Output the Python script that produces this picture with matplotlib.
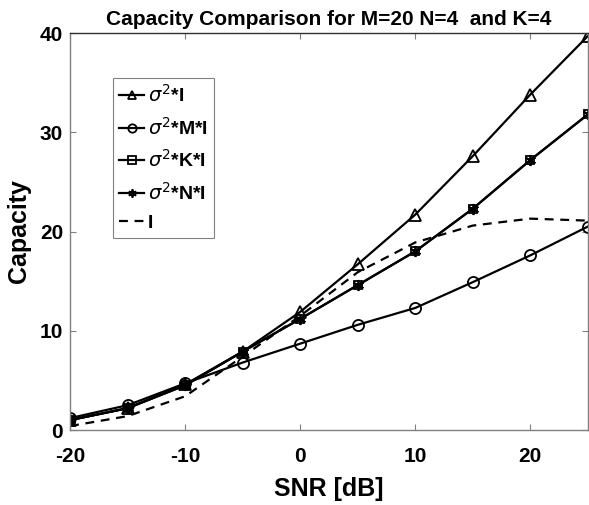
import numpy as np
import matplotlib
matplotlib.use("Agg")
import matplotlib.pyplot as plt

plt.rcParams['font.family'] = ['Liberation Sans', 'DejaVu Sans']
plt.rcParams['axes.unicode_minus'] = False

# datos
snr_db = [-20, -15, -10, -5, 0, 5, 10, 15, 20, 25]
cap_sigma_i = [1.0, 2.2, 4.6, 7.9, 11.9, 16.7, 21.7, 27.6, 33.8, 39.7]
cap_sigma_mi = [1.2, 2.5, 4.7, 6.8, 8.7, 10.6, 12.3, 14.9, 17.6, 20.5]
cap_sigma_ki = [1.0, 2.2, 4.5, 7.9, 11.2, 14.6, 18.0, 22.3, 27.2, 31.8]
cap_sigma_ni = [1.0, 2.2, 4.5, 7.9, 11.2, 14.6, 18.0, 22.3, 27.2, 31.8]
cap_identity = [0.4, 1.4, 3.4, 7.4, 11.5, 15.9, 18.9, 20.6, 21.3, 21.1]

fig = plt.figure(figsize=(5.89, 5.05), dpi=100)
ax = fig.add_axes([0.119, 0.1485, 0.879, 0.786])

lw = 1.6
ax.plot(snr_db, cap_sigma_i, color='k', lw=lw, marker='^', ms=8, mfc='none', mew=1.3,
        label=r'$\sigma^2$*I')
ax.plot(snr_db, cap_sigma_mi, color='k', lw=lw, marker='o', ms=8, mfc='none', mew=1.3,
        label=r'$\sigma^2$*M*I')
ax.plot(snr_db, cap_sigma_ki, color='k', lw=lw, marker='s', ms=6, mfc='none', mew=1.3,
        label=r'$\sigma^2$*K*I')
ax.plot(snr_db, cap_sigma_ni, color='k', lw=lw, marker=(6, 2, 0), ms=8, mew=1.3,
        label=r'$\sigma^2$*N*I')
ax.plot(snr_db, cap_identity, color='k', lw=lw, ls=(0, (4, 3)), label='I')

ax.set_xlim(-20, 25)
ax.set_ylim(0, 40)
ax.set_xticks([-20, -10, 0, 10, 20])
ax.set_yticks([0, 10, 20, 30, 40])
ax.tick_params(direction='in', length=4, width=0.8, color='#808080',
               labelsize=15, top=True, right=True)
ax.tick_params(axis='x', pad=12)
ax.tick_params(axis='y', pad=5)
for lab in ax.get_xticklabels() + ax.get_yticklabels():
    lab.set_fontweight('bold')
for s in ax.spines.values():
    s.set_color('#808080')
    s.set_linewidth(1.0)
ax.spines['top'].set_color('#303030')

ax.set_xlabel('SNR [dB]', fontsize=18, fontweight='bold', labelpad=8)
ax.set_ylabel('Capacity', fontsize=18, fontweight='bold', labelpad=6)
ax.set_title('Capacity Comparison for M=20 N=4  and K=4', fontsize=15,
             fontweight='bold', pad=6)

leg = ax.legend(loc='upper left', bbox_to_anchor=(0.083, 0.886), fancybox=False,
                edgecolor='#808080', framealpha=1, handlelength=1.3,
                handletextpad=0.2, borderpad=0.3, labelspacing=0.55,
                borderaxespad=0,
                prop={'weight': 'bold', 'size': 14})
leg.get_frame().set_linewidth(0.8)
for h in leg.legend_handles:
    h.set_markersize(6)

fig.savefig('out.png', dpi=100)
